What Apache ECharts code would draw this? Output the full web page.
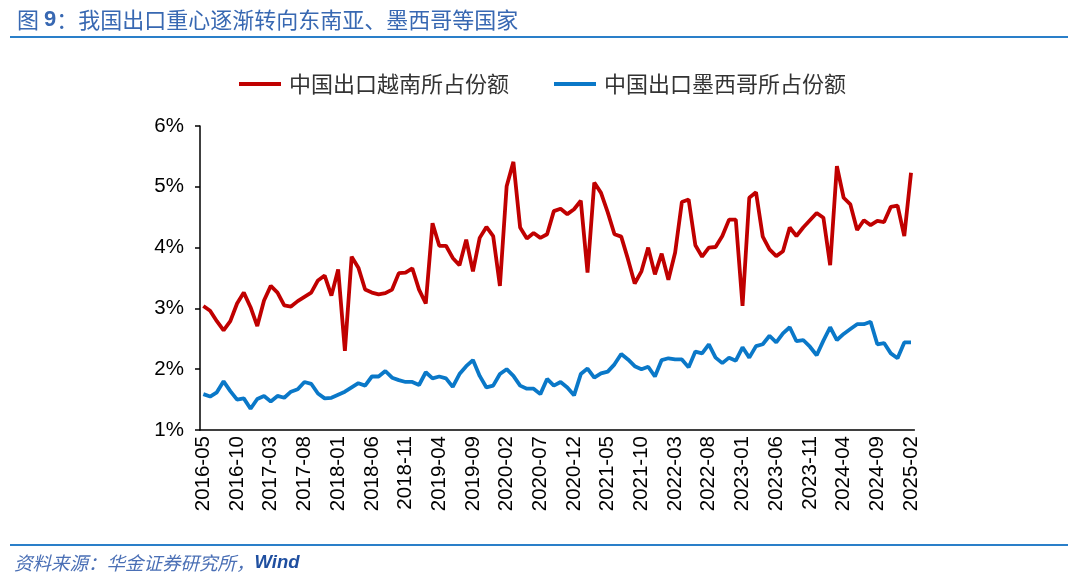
<!DOCTYPE html>
<html>
<head>
<meta charset="utf-8">
<script src="https://cdn.jsdelivr.net/npm/echarts@6/dist/echarts.min.js"></script>
<style>
html,body{margin:0;padding:0;background:#fff;}
#c{width:1080px;height:582px;}
</style>
</head>
<body>
<div id="c"></div>
<script>
// Categories: monthly, 2016-05 .. 2025-02
const startYear = 2016, startMonth = 5, monthCount = 106;
const categories = [];
for (let k = 0; k < monthCount; k++) {
  const m0 = startMonth - 1 + k;
  const y = startYear + Math.floor(m0 / 12);
  const m = (m0 % 12) + 1;
  categories.push(y + '-' + (m < 10 ? '0' + m : '' + m));
}

const seriesNames = ['中国出口越南所占份额', '中国出口墨西哥所占份额'];

// 中国出口越南所占份额 (%)
const vietnamShare = [
  3.04,2.96,2.79,2.64,2.79,3.08,3.26,3.02,2.71,3.13,
  3.37,3.26,3.05,3.03,3.12,3.19,3.26,3.46,3.54,3.21,
  3.64,2.30,3.85,3.67,3.31,3.26,3.23,3.25,3.31,3.58,
  3.59,3.66,3.31,3.08,4.40,4.03,4.03,3.83,3.71,4.13,
  3.61,4.16,4.34,4.19,3.37,5.01,5.41,4.33,4.15,4.24,
  4.16,4.22,4.60,4.64,4.55,4.63,4.77,3.59,5.07,4.90,
  4.58,4.22,4.18,3.81,3.41,3.61,4.00,3.56,3.90,3.47,
  3.92,4.75,4.79,4.04,3.85,4.00,4.01,4.19,4.46,4.46,
  3.04,4.82,4.91,4.18,3.97,3.86,3.94,4.33,4.19,4.33,
  4.45,4.57,4.49,3.71,5.34,4.82,4.71,4.29,4.45,4.37,
  4.44,4.42,4.67,4.69,4.19,5.23
];

// 中国出口墨西哥所占份额 (%)
const mexicoShare = [
  1.59,1.55,1.62,1.80,1.64,1.50,1.52,1.35,1.51,1.56,
  1.47,1.56,1.53,1.63,1.67,1.79,1.76,1.60,1.52,1.53,
  1.58,1.63,1.70,1.77,1.73,1.88,1.88,1.97,1.86,1.82,
  1.79,1.79,1.74,1.95,1.85,1.88,1.85,1.71,1.92,2.05,
  2.15,1.89,1.70,1.73,1.92,2.00,1.89,1.73,1.68,1.68,
  1.59,1.84,1.73,1.79,1.70,1.57,1.92,2.01,1.86,1.93,
  1.96,2.08,2.25,2.16,2.05,2.00,2.04,1.88,2.15,2.18,
  2.16,2.16,2.03,2.29,2.26,2.41,2.19,2.10,2.19,2.14,
  2.36,2.19,2.38,2.41,2.55,2.44,2.59,2.69,2.46,2.48,
  2.37,2.23,2.47,2.69,2.48,2.58,2.66,2.74,2.74,2.78,
  2.41,2.43,2.26,2.18,2.44,2.44
];

const yTicks = [1, 2, 3, 4, 5, 6];

const latin = "'Liberation Sans', Arial, 'Noto Sans CJK SC', sans-serif";
const cjk = "'Noto Sans CJK SC', 'Liberation Sans', sans-serif";

const chart = echarts.init(document.getElementById('c'), null, {renderer: 'canvas'});
chart.setOption({
  animation: false,
  backgroundColor: '#fff',
  title: {
    text: '{a|图 }{b|9}{a|：我国出口重心逐渐转向东南亚、墨西哥等国家}',
    left: 12, top: 4,
    textStyle: {
      fontWeight: 'normal',
      rich: {
        a: {fontFamily: cjk, fontSize: 22, fontWeight: 'normal', color: '#3868b2'},
        b: {fontFamily: latin, fontSize: 22, fontWeight: 'bold', color: '#3868b2'}
      }
    }
  },
  graphic: [
    {type: 'rect', shape: {x: 10, y: 36, width: 1058, height: 2}, style: {fill: '#2a7fc9'}},
    {type: 'rect', shape: {x: 10, y: 544, width: 1058, height: 2}, style: {fill: '#2a7fc9'}},
    {type: 'text', left: 14, top: 554,
      style: {
        text: '{a|资料来源：华金证券研究所，}{b|Wind}',
        rich: {
          a: {fontFamily: cjk, fontSize: 18.5, fontStyle: 'italic', fill: '#4a6fb5'},
          b: {fontFamily: latin, fontSize: 18.5, fontStyle: 'italic', fontWeight: 'bold', fill: '#1f4fa0'}
        }
      }
    }
  ],
  legend: {
    top: 68, left: 234,
    icon: 'rect', itemWidth: 42, itemHeight: 4, itemGap: 45,
    textStyle: {fontFamily: cjk, fontSize: 22, color: '#333', padding: [0, 0, 0, 3]},
    data: seriesNames
  },
  grid: {left: 200, right: 165.6, top: 126, bottom: 152, containLabel: false},
  xAxis: {
    type: 'category',
    data: categories,
    boundaryGap: true,
    axisLine: {lineStyle: {color: '#000', width: 1.5}},
    axisTick: {interval: 4, length: 5, lineStyle: {color: '#000', width: 1.5}},
    axisLabel: {interval: 4, rotate: 90, fontFamily: latin, fontSize: 20.5, color: '#000', margin: 6},
    splitLine: {show: false}
  },
  yAxis: {
    type: 'value',
    min: yTicks[0], max: yTicks[yTicks.length - 1], interval: 1,
    axisLine: {show: true, lineStyle: {color: '#000', width: 1.5}},
    axisTick: {show: true, length: 5, lineStyle: {color: '#000', width: 1.5}},
    axisLabel: {formatter: '{value}%', fontFamily: latin, fontSize: 20.5, color: '#000', margin: 16},
    splitLine: {show: false}
  },
  series: [
    {name: seriesNames[0], type: 'line', data: vietnamShare, symbol: 'none',
      lineStyle: {color: '#c00000', width: 3.8}, itemStyle: {color: '#c00000'}},
    {name: seriesNames[1], type: 'line', data: mexicoShare, symbol: 'none',
      lineStyle: {color: '#0a78c8', width: 3.8}, itemStyle: {color: '#0a78c8'}}
  ]
});
</script>
</body>
</html>
